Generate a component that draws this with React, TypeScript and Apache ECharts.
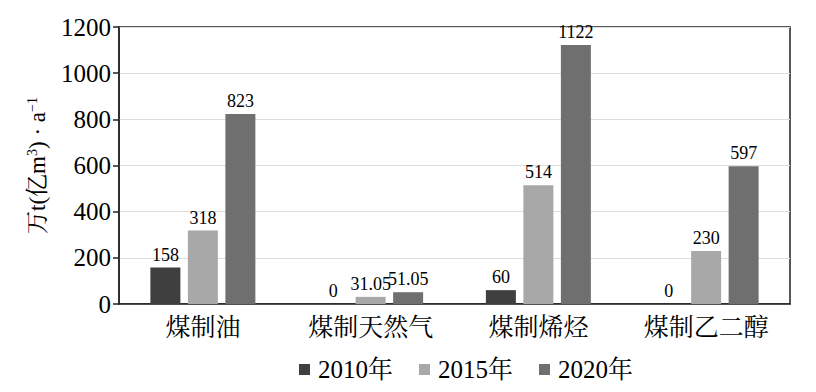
import React, { useEffect, useRef } from "react";
import * as echarts from "echarts";

const categories = ["煤制油", "煤制天然气", "煤制烯烃", "煤制乙二醇"];
const seriesNames = ["2010年", "2015年", "2020年"];
const values2010 = [158, 0, 60, 0];
const values2015 = [318, 31.05, 514, 230];
const values2020 = [823, 51.05, 1122, 597];
const colors = ["#3f3f3f", "#a8a8a8", "#6f6f6f"];
const yTicks = { min: 0, max: 1200, interval: 200 };

const FONT = "'Liberation Serif', 'Noto Serif CJK SC', 'Noto Sans CJK SC', serif";

export default function App() {
  const ref = useRef<HTMLDivElement>(null);
  useEffect(() => {
    if (!ref.current) return;
    const chart = echarts.init(ref.current, undefined, { renderer: "svg" });
    const data = [values2010, values2015, values2020];
    chart.setOption({
      animation: false,
      backgroundColor: "#ffffff",
      textStyle: { fontFamily: FONT, color: "#000" },
      grid: {
        left: 119,
        right: 26,
        top: 27,
        bottom: 88,
        show: true,
        borderColor: "#222",
        borderWidth: 1.5,
        backgroundColor: "transparent",
      },
      legend: {
        data: seriesNames,
        top: 352,
        left: 294,
        itemWidth: 11,
        itemHeight: 11,
        itemGap: 26,
        icon: "rect",
        textStyle: { fontSize: 25, fontFamily: FONT, color: "#000", padding: [0, 0, 0, 3] },
      },
      xAxis: {
        type: "category",
        data: categories,
        axisLine: { lineStyle: { color: "#222", width: 1.5 } },
        axisTick: { show: false },
        axisLabel: { fontSize: 25, color: "#000", fontFamily: FONT, margin: 11 },
      },
      yAxis: {
        type: "value",
        min: yTicks.min,
        max: yTicks.max,
        interval: yTicks.interval,
        name: "万t(亿m{sup|3}) · a{sup|−1}",
        nameLocation: "middle",
        nameRotate: 90,
        nameGap: 70,
        nameTextStyle: {
          fontSize: 23,
          color: "#000",
          fontFamily: FONT,
          rich: {
            sup: { fontSize: 14, verticalAlign: "top", padding: [0, 0, 10, 0], fontFamily: FONT, color: "#000" },
          },
        },
        axisLine: { show: true, lineStyle: { color: "#222", width: 1.5 } },
        axisTick: { show: true, inside: false, length: 6, lineStyle: { color: "#222", width: 1.5 } },
        axisLabel: {
          fontSize: 25,
          color: "#000",
          fontFamily: FONT,
          margin: 8,
          formatter: (v: number) => String(v),
        },
        splitLine: { lineStyle: { color: "#dddddd", width: 1 } },
      },
      series: seriesNames.map((name, i) => ({
        name,
        type: "bar",
        data: data[i],
        barWidth: 30,
        barGap: "25%",
        itemStyle: { color: colors[i] },
        label: {
          show: true,
          position: "top",
          fontSize: 18,
          color: "#000",
          fontFamily: FONT,
          distance: 4,
        },
      })),
    });
    return () => chart.dispose();
  }, []);
  return <div ref={ref} style={{ position: "fixed", left: 0, top: 0, width: 816, height: 392 }} />;
}
